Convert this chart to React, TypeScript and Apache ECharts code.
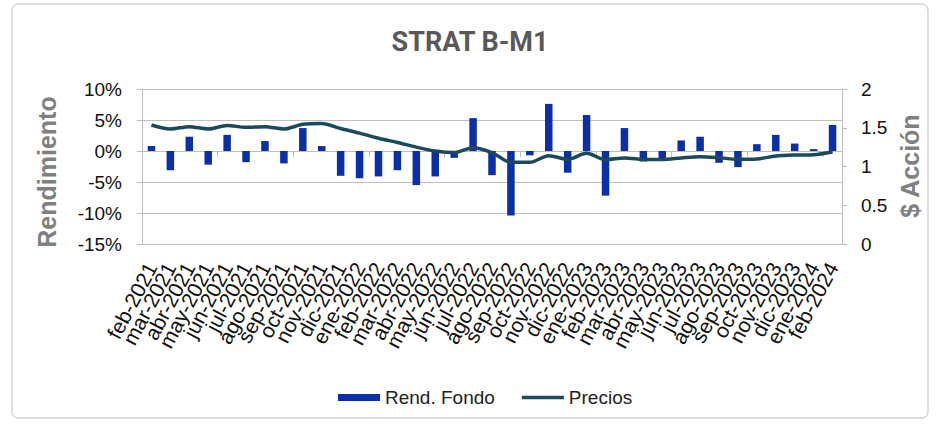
import React, { useEffect, useRef } from "react";
import * as echarts from "echarts";

const categories = [
  "feb-2021", "mar-2021", "abr-2021", "may-2021", "jun-2021", "jul-2021", "ago-2021", "sep-2021",
  "oct-2021", "nov-2021", "dic-2021", "ene-2022", "feb-2022", "mar-2022", "abr-2022", "may-2022",
  "jun-2022", "jul-2022", "ago-2022", "sep-2022", "oct-2022", "nov-2022", "dic-2022", "ene-2023",
  "feb-2023", "mar-2023", "abr-2023", "may-2023", "jun-2023", "jul-2023", "ago-2023", "sep-2023",
  "oct-2023", "nov-2023", "dic-2023", "ene-2024", "feb-2024",
];

// Rend. Fondo (%)
const rendFondo = [
  0.8, -3.1, 2.3, -2.2, 2.6, -1.8, 1.6, -2.0,
  3.7, 0.8, -4.0, -4.4, -4.1, -3.1, -5.5, -4.1,
  -1.1, 5.3, -3.9, -10.4, -0.7, 7.6, -3.5, 5.8,
  -7.2, 3.7, -1.7, -1.5, 1.7, 2.3, -1.9, -2.6,
  1.1, 2.6, 1.2, 0.3, 4.2,
];

// Precios ($ Acción)
const precios = [
  1.535, 1.484, 1.514, 1.484, 1.53, 1.505, 1.514, 1.484,
  1.544, 1.555, 1.49, 1.43, 1.364, 1.31, 1.25, 1.2,
  1.18, 1.243, 1.18, 1.054, 1.054, 1.14, 1.093, 1.17,
  1.088, 1.11, 1.093, 1.09, 1.11, 1.127, 1.114, 1.093,
  1.097, 1.135, 1.148, 1.152, 1.187,
];

const leftTicks = { min: -15, max: 10, interval: 5 };
const rightTicks = { min: 0, max: 2, interval: 0.5 };

export default function App() {
  const ref = useRef<HTMLDivElement>(null);

  useEffect(() => {
    if (!ref.current) return;
    const chart = echarts.init(ref.current, undefined, { renderer: "svg" });
    const gray = "#bfbfbf";
    const font = "Liberation Sans, Arial, sans-serif";
    chart.setOption({
      animation: false,
      backgroundColor: "#ffffff",
      title: {
        text: "STRAT B-M1",
        left: "center",
        top: 23,
        textStyle: { fontFamily: "Roboto, sans-serif", fontWeight: "bold", fontSize: 27, color: "#595959" },
      },
      legend: {
        left: 333,
        top: 383,
        itemGap: 27,
        itemWidth: 42,
        itemHeight: 7,
        textStyle: { fontFamily: font, fontSize: 19, color: "#222" },
        data: [
          { name: "Rend. Fondo", icon: "rect" },
          { name: "Precios", icon: "path://M0,0L42,0L42,3.5L0,3.5Z" },
        ],
      },
      grid: { left: 142, right: 98, top: 89, bottom: 181, containLabel: false },
      xAxis: [
        {
          type: "category",
          data: categories,
          position: "bottom",
          boundaryGap: true,
          axisLine: { show: true, onZero: true, lineStyle: { color: gray, width: 1 } },
          axisTick: { show: true, alignWithLabel: false, length: 6, lineStyle: { color: gray } },
          axisLabel: { show: false },
          splitLine: { show: false },
        },
        {
          type: "category",
          data: categories,
          position: "bottom",
          boundaryGap: true,
          axisLine: { show: false, onZero: false },
          axisTick: { show: false },
          axisLabel: { show: true, rotate: 62, margin: 20, interval: 0, fontFamily: font, fontSize: 21, color: "#111" },
          splitLine: { show: false },
        },
      ],
      yAxis: [
        {
          type: "value",
          min: leftTicks.min,
          max: leftTicks.max,
          interval: leftTicks.interval,
          position: "left",
          axisLine: { show: true, lineStyle: { color: gray } },
          axisTick: { show: true, length: 5, lineStyle: { color: gray } },
          axisLabel: { margin: 20, fontFamily: font, fontSize: 19, color: "#111", formatter: (v: number) => `${v}%` },
          splitLine: { show: true, lineStyle: { color: gray, width: 1 } },
        },
        {
          type: "value",
          min: rightTicks.min,
          max: rightTicks.max,
          interval: rightTicks.interval,
          position: "right",
          axisLine: { show: true, lineStyle: { color: gray } },
          axisTick: { show: true, length: 5, lineStyle: { color: gray } },
          axisLabel: { margin: 19, fontFamily: font, fontSize: 19, color: "#111", formatter: (v: number) => `${v}` },
          splitLine: { show: false },
        },
      ],
      series: [
        {
          name: "Rend. Fondo",
          type: "bar",
          xAxisIndex: 0,
          yAxisIndex: 0,
          data: rendFondo,
          barWidth: 7.5,
          itemStyle: { color: "#0a2fa6" },
        },
        {
          name: "Precios",
          type: "line",
          xAxisIndex: 0,
          yAxisIndex: 1,
          data: precios,
          symbol: "none",
          smooth: 0.3,
          lineStyle: { color: "#1a4a5c", width: 3.5 },
          itemStyle: { color: "#1a4a5c" },
        },
      ],
      graphic: [
        {
          type: "rect",
          shape: { x: 12, y: 4, width: 916, height: 414, r: 6 },
          style: { fill: "none", stroke: "#bfbfbf", lineWidth: 1 },
          silent: true,
        },
        {
          type: "text",
          x: 47,
          y: 172,
          rotation: Math.PI / 2,
          style: {
            text: "Rendimiento",
            fontFamily: font,
            fontWeight: "bold",
            fontSize: 25,
            fill: "#808080",
            align: "center",
            verticalAlign: "middle",
          },
        },
        {
          type: "text",
          x: 910,
          y: 166,
          rotation: Math.PI / 2,
          style: {
            text: "$ Acción",
            fontFamily: font,
            fontWeight: "bold",
            fontSize: 25,
            fill: "#808080",
            align: "center",
            verticalAlign: "middle",
          },
        },
      ],
    });
    return () => chart.dispose();
  }, []);

  return (
    <div
      ref={ref}
      style={{ position: "fixed", left: 0, top: 0, width: 940, height: 425, background: "#fff" }}
    />
  );
}
